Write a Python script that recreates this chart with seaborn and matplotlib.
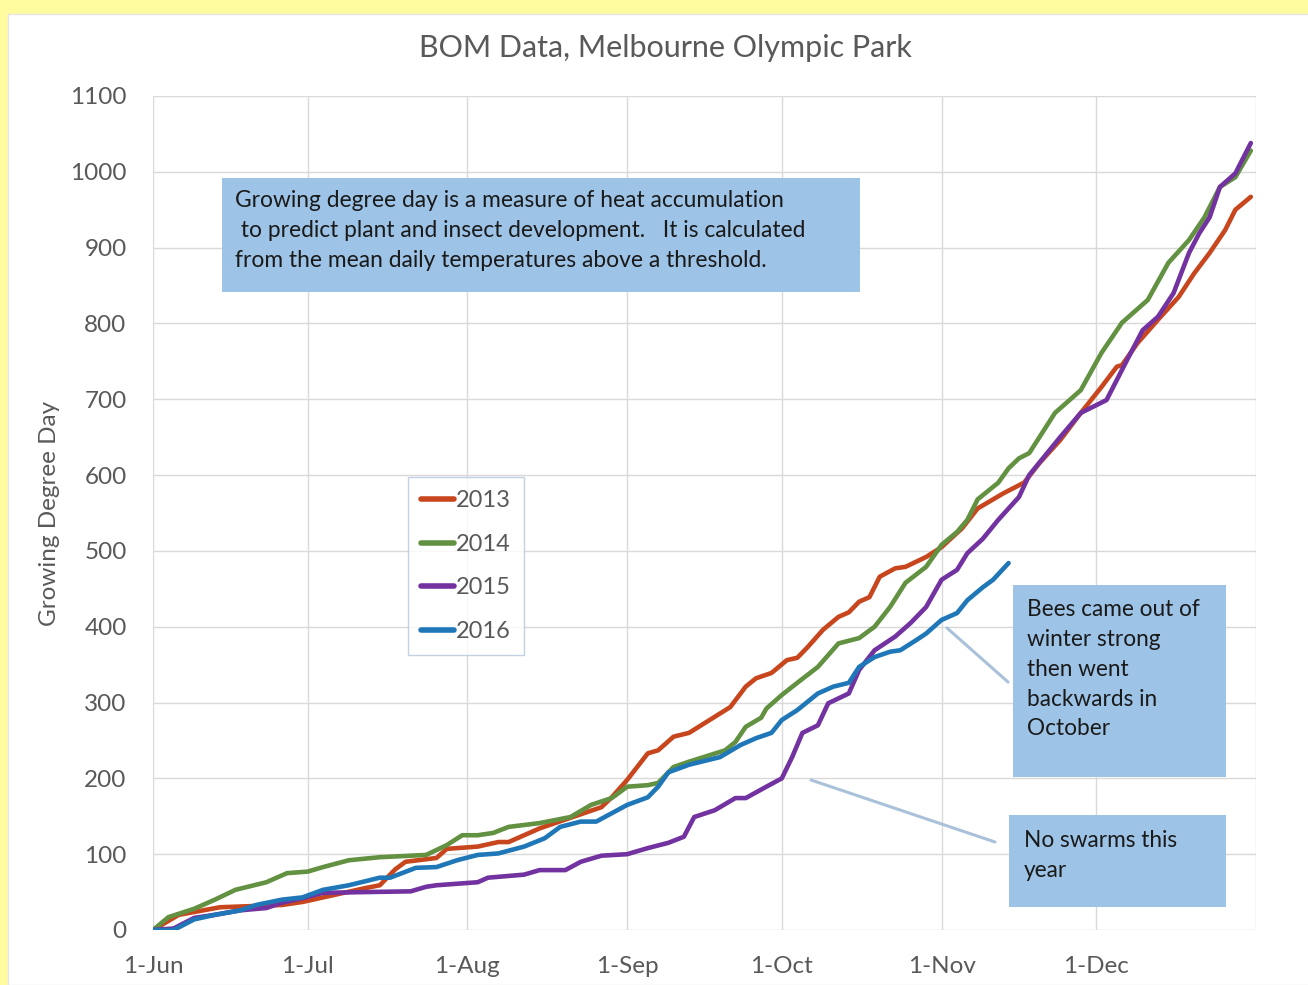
import pandas as pd
import numpy as np
import matplotlib.pyplot as plt
import seaborn as sns
from matplotlib.patches import Rectangle
from matplotlib.lines import Line2D

# cumulative growing degree days (dates as MM-DD)
dates_2013 = ['06-01', '06-06', '06-14', '06-26', '06-30', '07-12', '07-15', '07-18', '07-20', '07-26',
              '07-28', '08-03', '08-07', '08-09', '08-15', '08-21', '08-27', '08-29', '09-01', '09-05',
              '09-07', '09-10', '09-13', '09-17', '09-21', '09-24', '09-26', '09-29', '10-02', '10-04',
              '10-06', '10-09', '10-12', '10-14', '10-16', '10-18', '10-20', '10-23', '10-25', '10-29',
              '11-01', '11-05', '11-08', '11-13', '11-17', '11-20', '11-24', '11-28', '12-02', '12-05',
              '12-06', '12-09', '12-13', '12-17', '12-20', '12-23', '12-26', '12-28', '12-31']
gdd_2013 = [0, 20, 30, 33, 37, 55, 59, 80, 90, 95,
            107, 110, 116, 116, 134, 148, 162, 175, 198, 233,
            237, 255, 260, 277, 294, 321, 332, 339, 356, 359,
            373, 396, 413, 419, 433, 439, 466, 477, 479, 492,
            505, 530, 556, 576, 590, 616, 646, 682, 716, 743,
            745, 774, 805, 835, 866, 893, 923, 950, 967]

dates_2014 = ['06-01', '06-04', '06-09', '06-13', '06-17', '06-23', '06-27', '07-01', '07-04', '07-09',
              '07-15', '07-24', '07-28', '07-31', '08-03', '08-06', '08-09', '08-15', '08-21', '08-25',
              '08-29', '09-01', '09-05', '09-07', '09-10', '09-13', '09-20', '09-22', '09-24', '09-27',
              '09-28', '10-01', '10-04', '10-08', '10-12', '10-16', '10-19', '10-22', '10-25', '10-29',
              '11-01', '11-04', '11-06', '11-08', '11-12', '11-14', '11-16', '11-18', '11-23', '11-28',
              '12-02', '12-06', '12-11', '12-15', '12-19', '12-22', '12-25', '12-28', '12-31']
gdd_2014 = [0, 17, 28, 40, 53, 63, 75, 77, 83, 92,
            96, 99, 112, 125, 125, 128, 136, 141, 149, 165,
            174, 189, 191, 194, 215, 222, 237, 248, 268, 280,
            292, 310, 326, 347, 378, 385, 400, 426, 458, 479,
            508, 525, 541, 568, 590, 609, 622, 629, 682, 712,
            761, 801, 831, 880, 910, 940, 980, 993, 1028]

dates_2015 = ['06-01', '06-05', '06-09', '06-13', '06-18', '06-23', '06-26', '06-30', '07-04', '07-12',
              '07-21', '07-24', '07-26', '08-03', '08-05', '08-12', '08-15', '08-20', '08-23', '08-27',
              '09-01', '09-05', '09-09', '09-12', '09-14', '09-18', '09-22', '09-24', '09-28', '10-01',
              '10-03', '10-05', '10-08', '10-10', '10-14', '10-16', '10-19', '10-23', '10-26', '10-29',
              '11-01', '11-04', '11-06', '11-09', '11-12', '11-16', '11-18', '11-24', '11-28', '12-03',
              '12-07', '12-10', '12-13', '12-16', '12-19', '12-21', '12-23', '12-25', '12-28', '12-31']
gdd_2015 = [0, 2, 16, 20, 26, 29, 36, 42, 49, 50,
            51, 57, 59, 63, 69, 73, 79, 79, 90, 98,
            100, 108, 115, 123, 149, 158, 174, 174, 189, 200,
            228, 260, 270, 299, 312, 343, 369, 387, 405, 426,
            462, 475, 497, 516, 541, 571, 600, 650, 682, 699,
            752, 791, 809, 840, 893, 919, 940, 980, 998, 1038]

dates_2016 = ['06-01', '06-05', '06-09', '06-13', '06-18', '06-21', '06-26', '06-30', '07-04', '07-09',
              '07-15', '07-17', '07-22', '07-26', '07-30', '08-03', '08-07', '08-12', '08-16', '08-19',
              '08-23', '08-26', '08-29', '09-01', '09-05', '09-07', '09-09', '09-13', '09-19', '09-23',
              '09-26', '09-29', '10-01', '10-04', '10-08', '10-11', '10-14', '10-16', '10-19', '10-22',
              '10-24', '10-27', '10-29', '11-01', '11-04', '11-06', '11-09', '11-11', '11-14']
gdd_2016 = [0, 0, 14, 20, 26, 33, 40, 43, 53, 59,
            69, 69, 82, 83, 92, 99, 101, 110, 121, 136,
            143, 143, 154, 165, 175, 189, 208, 218, 228, 244,
            253, 260, 277, 290, 312, 321, 326, 347, 360, 367,
            369, 382, 391, 409, 418, 435, 452, 462, 484]

years = ['2013', '2014', '2015', '2016']
colors = ['#C8461E', '#629142', '#7232A0', '#1F77B8']
month_ticks = ['06-01', '07-01', '08-01', '09-01', '10-01', '11-01', '12-01']
month_labels = ['1-Jun', '1-Jul', '1-Aug', '1-Sep', '1-Oct', '1-Nov', '1-Dec']

frames = []
for yr, d, v in zip(years, [dates_2013, dates_2014, dates_2015, dates_2016],
                    [gdd_2013, gdd_2014, gdd_2015, gdd_2016]):
    frames.append(pd.DataFrame({'date': pd.to_datetime(['2001-' + s for s in d]), 'gdd': v, 'year': yr}))
df = pd.concat(frames, ignore_index=True)

sns.set_style('whitegrid')
plt.rcParams['font.family'] = ['Lato', 'DejaVu Sans']
txt = '#595959'

fig = plt.figure(figsize=(13.08, 9.85), dpi=100)
fig.patch.set_facecolor('#FFFB9E')
fig.add_artist(Rectangle((8 / 1308, 0), 1, 1 - 14 / 985, transform=fig.transFigure,
                         facecolor='white', edgecolor='#E6E6E6', lw=1, zorder=0))

ax = fig.add_axes([153 / 1308, 1 - 930 / 985, 1103 / 1308, 834 / 985])
ax.set_facecolor('none')
sns.lineplot(data=df, x='date', y='gdd', hue='year', palette=colors, linewidth=3.3,
             estimator=None, ax=ax)

ax.set_ylim(0, 1100)
ax.set_yticks(range(0, 1101, 100))
ax.set_xlim(pd.Timestamp('2001-06-01'), pd.Timestamp('2002-01-01'))
ax.set_xticks(list(pd.to_datetime(['2001-' + s for s in month_ticks])) + [pd.Timestamp('2002-01-01')])
ax.set_xticklabels(month_labels + [''])
ax.grid(True, color='#D9D9D9', lw=1)
for s in ax.spines.values():
    s.set_visible(False)
ax.tick_params(axis='y', colors=txt, labelsize=17.5, length=0, pad=19)
ax.tick_params(axis='x', colors=txt, labelsize=17.5, length=6, color='#D9D9D9', pad=13)
ax.set_xlabel('')
ax.set_ylabel('Growing Degree Day', fontsize=17.5, color=txt, labelpad=7)

leg = ax.legend(loc='upper left', bbox_to_anchor=(0.231, 0.543), fontsize=17, frameon=True,
                fancybox=False, edgecolor='#B4C7DC', handlelength=1.4, handletextpad=0.1,
                labelspacing=0.96, borderpad=0.55, borderaxespad=0)
for t in leg.get_texts():
    t.set_color(txt)
for h in leg.get_lines():
    h.set_linewidth(4)
leg.get_frame().set_linewidth(1)

fig.text(665 / 1308, 1 - 48 / 985, 'BOM Data, Melbourne Olympic Park', ha='center', va='center',
         fontsize=22, color=txt)

box_c = '#9DC3E6'
def fig_box(x0, y0, x1, y1):
    fig.add_artist(Rectangle((x0 / 1308, 1 - y1 / 985), (x1 - x0) / 1308, (y1 - y0) / 985,
                             transform=fig.transFigure, facecolor=box_c, edgecolor='none', zorder=5))

fig_box(222, 178, 860, 292)
fig.text(235 / 1308, 1 - 190 / 985,
         'Growing degree day is a measure of heat accumulation\n'
         ' to predict plant and insect development.   It is calculated\n'
         'from the mean daily temperatures above a threshold.',
         ha='left', va='top', fontsize=16.4, color='#1A1A1A', linespacing=1.52, zorder=6)

fig_box(1013, 585, 1226, 777)
fig.text(1027 / 1308, 1 - 599 / 985, 'Bees came out of\nwinter strong\nthen went\nbackwards in\nOctober',
         ha='left', va='top', fontsize=16.3, color='#1A1A1A', linespacing=1.52, zorder=6)

fig_box(1009, 815, 1226, 907)
fig.text(1024 / 1308, 1 - 830 / 985, 'No swarms this\nyear', ha='left', va='top', fontsize=16.3,
         color='#1A1A1A', linespacing=1.52, zorder=6)

lead_c = '#A9C1D9'
fig.add_artist(Line2D([1008 / 1308, 947 / 1308], [1 - 682 / 985, 1 - 628 / 985],
                      transform=fig.transFigure, color=lead_c, lw=2.2, zorder=6))
fig.add_artist(Line2D([995 / 1308, 811 / 1308], [1 - 842 / 985, 1 - 780 / 985],
                      transform=fig.transFigure, color=lead_c, lw=2.2, zorder=6))

fig.savefig('out.png', dpi=100, facecolor=fig.get_facecolor())
